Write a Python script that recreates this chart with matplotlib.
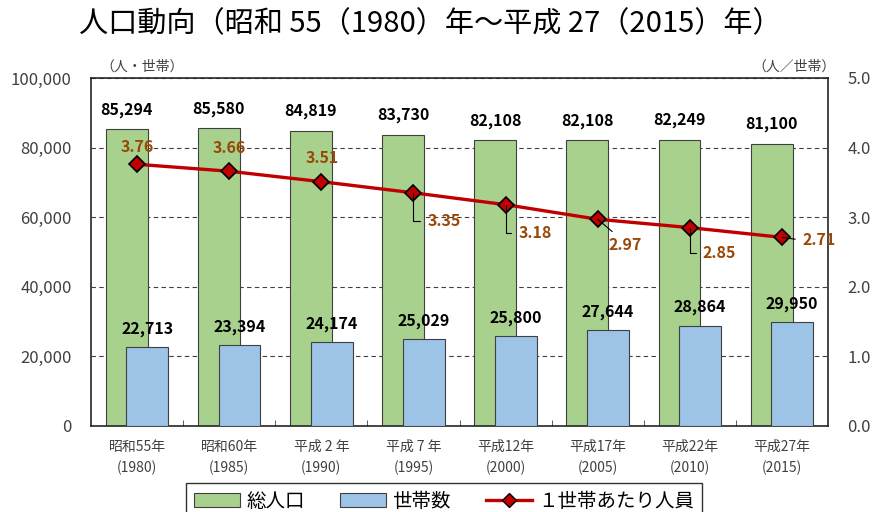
import numpy as np
import matplotlib.pyplot as plt
from matplotlib.lines import Line2D
from matplotlib.patches import Patch

plt.rcParams['font.family'] = ['Noto Sans CJK JP', 'DejaVu Sans']

# ---- data ----
years = ["昭和55年\n(1980)", "昭和60年\n(1985)", "平成 2 年\n(1990)", "平成 7 年\n(1995)",
         "平成12年\n(2000)", "平成17年\n(2005)", "平成22年\n(2010)", "平成27年\n(2015)"]
population = [85294, 85580, 84819, 83730, 82108, 82108, 82249, 81100]
households = [22713, 23394, 24174, 25029, 25800, 27644, 28864, 29950]
per_household = [3.76, 3.66, 3.51, 3.35, 3.18, 2.97, 2.85, 2.71]

# label positions for the line values (x, y on right axis)
line_lbl_pos = [(0.0, 4.01), (1.0, 3.99), (2.01, 3.85), (3.33, 2.95),
                (4.32, 2.77), (5.30, 2.60), (6.32, 2.49), (7.40, 2.67)]
leader = [None, None, None, 'angle', 'angle', 'line', 'angle', 'line']

green = '#A9D18E'
blue = '#9DC3E6'
red = '#C00000'
brown = '#984807'
grey = '#404040'

x = np.arange(len(years))
w = 0.455
off = 0.112

fig = plt.figure(figsize=(8.72, 5.12), dpi=100)
ax = fig.add_axes([0.1044, 0.168, 0.8451, 0.6797])
ax2 = ax.twinx()

ax.bar(x - off, population, w, color=green, edgecolor='#404040', linewidth=0.8, zorder=2)
ax.bar(x + off, households, w, color=blue, edgecolor='#404040', linewidth=0.8, zorder=3)

for i in range(len(x)):
    ax.annotate(f"{population[i]:,}", (x[i] - off, population[i]), xytext=(0, 14),
                textcoords='offset points', ha='center', va='center',
                fontsize=11.5, fontweight='bold', color='black', zorder=5)
    ax.annotate(f"{households[i]:,}", (x[i] + off, households[i]), xytext=(0, 13),
                textcoords='offset points', ha='center', va='center',
                fontsize=11.5, fontweight='bold', color='black', zorder=5)

ax.set_xlim(-0.5, 7.5)
ax.set_ylim(0, 100000)
ax.set_yticks(np.arange(0, 100001, 20000))
ax.set_yticklabels([f"{v:,}" for v in range(0, 100001, 20000)], fontsize=12, color=grey)
ax.yaxis.grid(True, linestyle=(0, (4, 3)), color='#404040', linewidth=0.8)
ax.set_axisbelow(True)
ax.tick_params(axis='y', length=0, pad=14)

ax.set_xticks(x)
ax.set_xticklabels(years, fontsize=10, color=grey, linespacing=1.6)
ax.tick_params(axis='x', length=0, pad=10)
ax.set_xticks(np.arange(0.5, 7, 1), minor=True)
ax.tick_params(axis='x', which='minor', direction='in', length=4, color='#404040')

for s in ax.spines.values():
    s.set_color('#262626')
    s.set_linewidth(1.2)

ax2.plot(x, per_household, color=red, linewidth=2.4, marker='D', markersize=8,
         markerfacecolor=red, markeredgecolor='black', markeredgewidth=1.2, zorder=4)
ax2.set_ylim(0, 5)
ax2.set_yticks(np.arange(0, 5.01, 1))
ax2.set_yticklabels([f"{v:.1f}" for v in np.arange(0, 5.01, 1)], fontsize=12, color=grey)
ax2.tick_params(axis='y', length=0, pad=14)
for s in ax2.spines.values():
    s.set_visible(False)

for i, v in enumerate(per_household):
    tx, ty = line_lbl_pos[i]
    props = None
    if leader[i] == 'angle':
        props = dict(arrowstyle='-', color='black', lw=0.8, relpos=(0, 0.5),
                     connectionstyle='angle,angleA=0,angleB=90,rad=0', shrinkA=3, shrinkB=0)
    elif leader[i] == 'line':
        props = dict(arrowstyle='-', color='black', lw=0.8, relpos=(0, 0.5) if i == 7 else (0.3, 1.0),
                     shrinkA=3, shrinkB=0)
    ax2.annotate(f"{v:.2f}", (x[i], v), xytext=(tx, ty), textcoords='data',
                 ha='center', va='center', fontsize=11.5, fontweight='bold', color=brown,
                 arrowprops=props, zorder=6)

fig.text(0.115, 0.87, "（人・世帯）", fontsize=10, color=grey, ha='left', va='center')
fig.text(0.958, 0.87, "（人／世帯）", fontsize=10, color=grey, ha='right', va='center')

fig.text(0.493, 0.953, "人口動向（昭和 55（1980）年～平成 27（2015）年）", fontsize=21,
         ha='center', va='center', color='black')

handles = [Patch(facecolor=green, edgecolor='#404040', linewidth=0.8),
           Patch(facecolor=blue, edgecolor='#404040', linewidth=0.8),
           Line2D([0], [0], color=red, linewidth=2.4, marker='D', markersize=7,
                  markerfacecolor=red, markeredgecolor='black')]
leg = fig.legend(handles, ["総人口", "世帯数", "１世帯あたり人員"], loc='upper center',
                 bbox_to_anchor=(0.509, 0.057), ncol=3, fontsize=14, frameon=True,
                 fancybox=False, edgecolor='black', handlelength=2.4, columnspacing=1.8,
                 handletextpad=0.3, borderaxespad=0)
leg.get_frame().set_linewidth(1.0)

fig.savefig('out.png', dpi=100)
